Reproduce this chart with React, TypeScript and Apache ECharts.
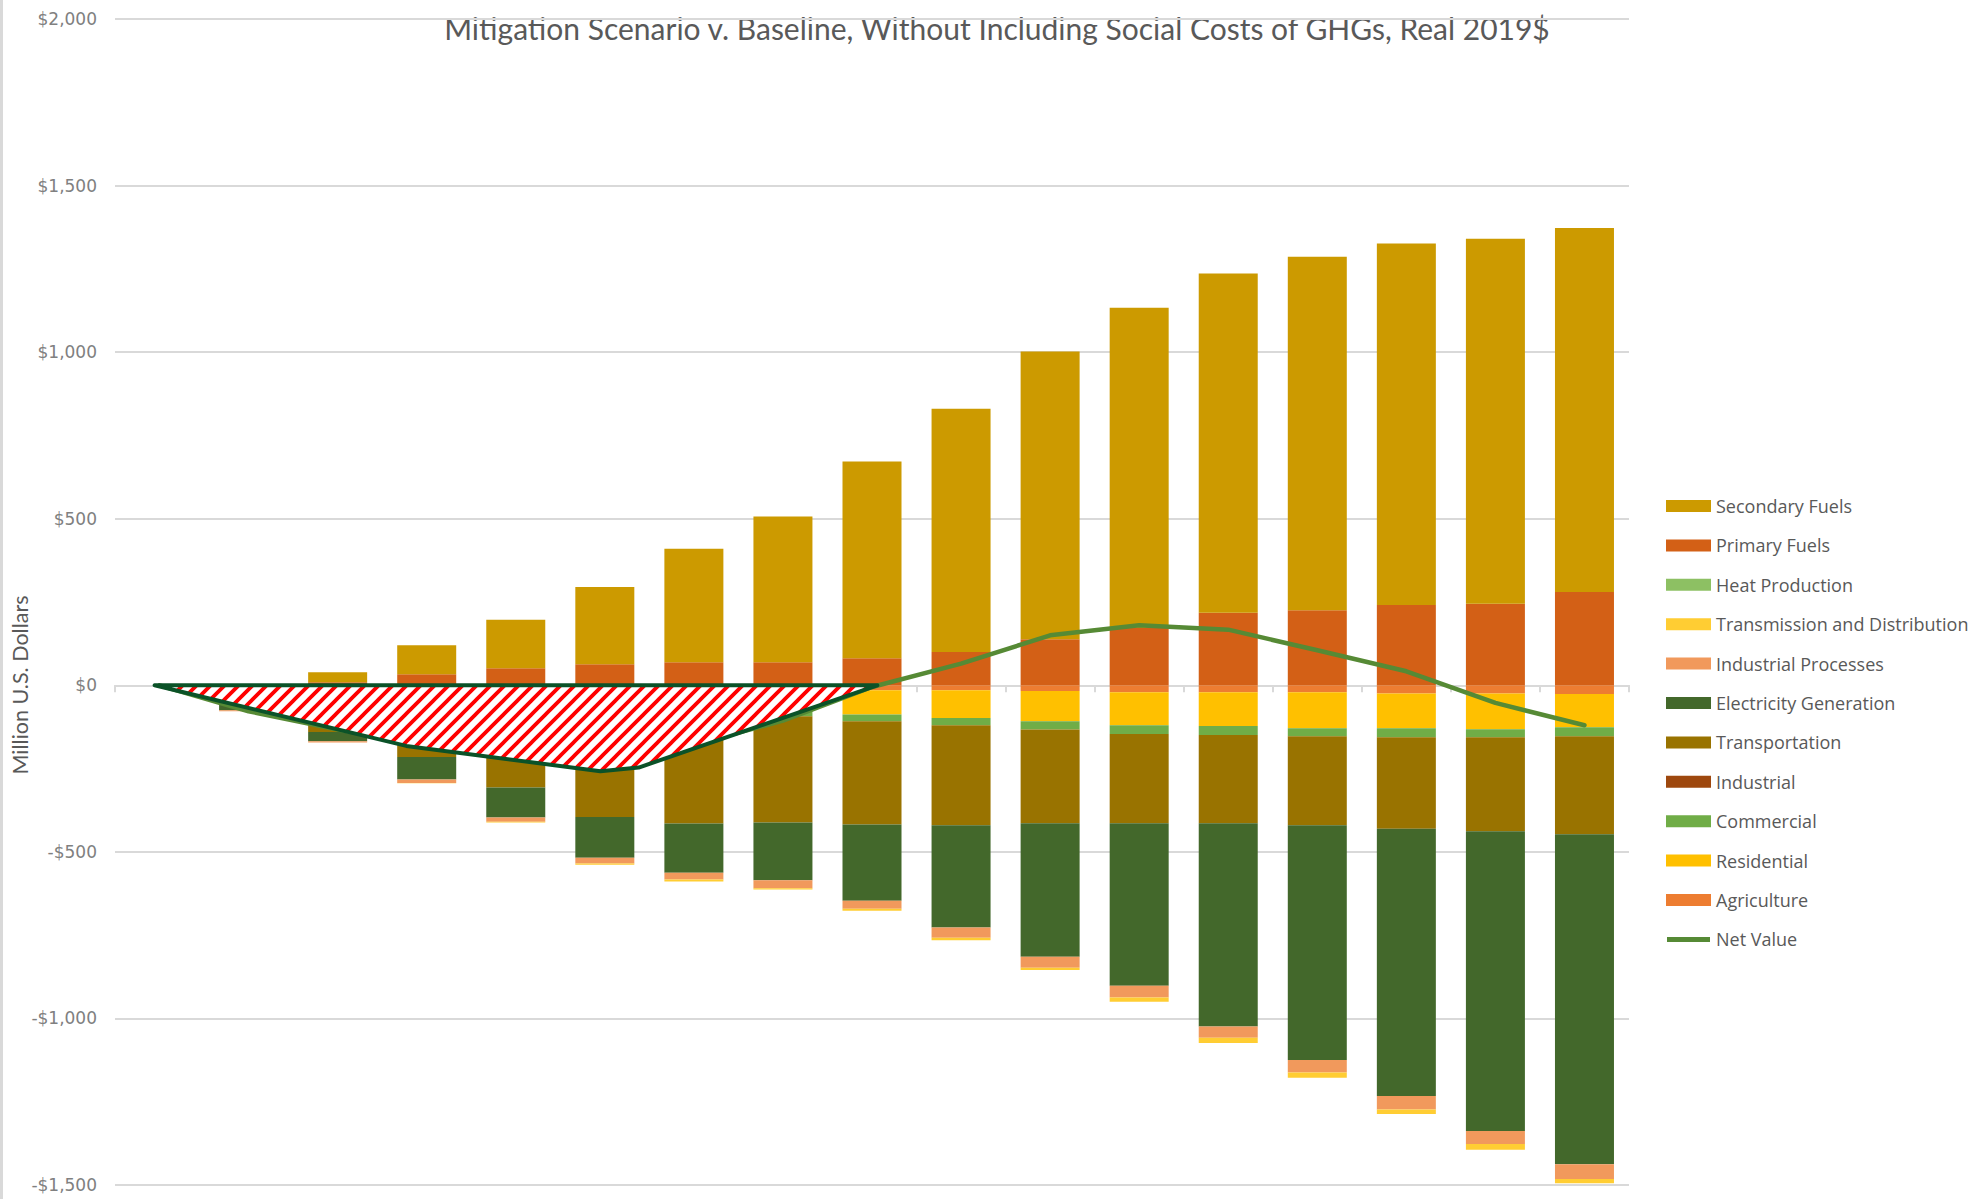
import React, { useEffect, useRef } from 'react';
import * as echarts from 'echarts';

const categories = ['2020', '2021', '2022', '2023', '2024', '2025', '2026', '2027', '2028', '2029', '2030', '2031', '2032', '2033', '2034', '2035', '2036'];

const secondaryFuels = [0, 0, 30, 87, 146, 232, 341, 438, 591, 730, 864, 961, 1018, 1061, 1085, 1095, 1093];
const primaryFuels = [0, 0, 9, 33, 51, 63, 69, 69, 81, 100, 138, 172, 218, 225, 241, 245, 280];
const heatProduction = [0, 0, 0, 0, 0, 0, 0, 0, 0, 0, 0, 0, 0, 0, 0, 0, 0];
const transmissionDistribution = [0, 0, 0, -1, -2, -4, -6, -4, -6, -7, -7, -13, -16, -16, -14, -17, -13];
const industrialProcesses = [0, -3, -4, -10, -13, -17, -20, -24, -24, -31, -33, -35, -34, -37, -40, -39, -44];
const electricityGeneration = [0, -35, -28, -68, -90, -123, -148, -173, -229, -307, -401, -488, -610, -705, -802, -900, -991];
const transportation = [0, -35, -124, -186, -263, -335, -338, -319, -310, -300, -281, -268, -265, -267, -275, -282, -294];
const industrial = [0, 0, 0, 0, 0, 0, 0, 0, 0, 0, 0, 0, 0, 0, 0, 0, 0];
const commercial = [0, -1, -4, -7, -10, -13, -16, -18, -20, -22, -25, -26, -27, -24, -27, -24, -27];
const residential = [0, -3, -9, -17, -27, -38, -50, -62, -73, -83, -91, -99, -101, -108, -104, -107, -100];
const agriculture = [0, -1, -3, -5, -7, -9, -11, -13, -15, -15, -17, -21, -21, -21, -25, -25, -26];
const netValue = [0, -78, -133, -174, -215, -244, -179, -106, -5, 65, 150, 180, 167, 105, 42, -53, -120];

// Hatched "net cost" annotation, in data space (category index, million $)
const hatchX = [-0.055, 2.77, 4.95, 5.38, 8.06, -0.055];
const hatchY = [0, -182, -258, -247, 0, 0];

const titleText = 'Mitigation Scenario v. Baseline, Without Including Social Costs of GHGs, Real 2019$';
const yAxisTitle = 'Million U.S. Dollars';

// stacking order (first = nearest zero)
const barSeries = [
  { name: 'Agriculture', data: agriculture, color: '#ED7D31' },
  { name: 'Residential', data: residential, color: '#FFC000' },
  { name: 'Commercial', data: commercial, color: '#70AD47' },
  { name: 'Industrial', data: industrial, color: '#9E480E' },
  { name: 'Transportation', data: transportation, color: '#997300' },
  { name: 'Electricity Generation', data: electricityGeneration, color: '#43682B' },
  { name: 'Industrial Processes', data: industrialProcesses, color: '#F1995C' },
  { name: 'Transmission and Distribution', data: transmissionDistribution, color: '#FFCD33' },
  { name: 'Heat Production', data: heatProduction, color: '#8DC063' },
  { name: 'Primary Fuels', data: primaryFuels, color: '#D36016' },
  { name: 'Secondary Fuels', data: secondaryFuels, color: '#CC9A00' },
];

const legendOrder = [
  'Secondary Fuels', 'Primary Fuels', 'Heat Production', 'Transmission and Distribution',
  'Industrial Processes', 'Electricity Generation', 'Transportation', 'Industrial',
  'Commercial', 'Residential', 'Agriculture', 'Net Value',
];

function fmtDollar(v: number): string {
  const abs = Math.abs(v).toLocaleString('en-US');
  return (v < 0 ? '-$' : '$') + abs;
}

function makeHatch(): HTMLCanvasElement {
  const P = 14;
  const c = document.createElement('canvas');
  c.width = P;
  c.height = P;
  const ctx = c.getContext('2d')!;
  ctx.fillStyle = '#ffffff';
  ctx.fillRect(0, 0, P, P);
  ctx.strokeStyle = '#ff0000';
  ctx.lineWidth = 3.8;
  ctx.beginPath();
  for (const k of [0, P, 2 * P]) {
    ctx.moveTo(k + 3, -3);
    ctx.lineTo(k - P - 3, P + 3);
  }
  ctx.stroke();
  return c;
}

export default function App() {
  const ref = useRef<HTMLDivElement>(null);
  useEffect(() => {
    const chart = echarts.init(ref.current!, null, { renderer: 'svg' });
    const hatch = makeHatch();
    const option: any = {
      animation: false,
      backgroundColor: '#ffffff',
      grid: { left: 115, right: 346, top: 19, bottom: 14, containLabel: false },
      legend: {
        orient: 'vertical',
        left: 1661,
        top: 491,
        itemWidth: 45,
        itemHeight: 12,
        itemGap: 19.4,
        icon: 'rect',
        textStyle: { fontFamily: 'Open Sans', fontSize: 18, color: '#595959', lineHeight: 20 },
        data: legendOrder.map((n) =>
          n === 'Net Value'
            ? { name: n, icon: 'path://M0,0L0,0M1,3.5L44,3.5L44,8.5L1,8.5ZM45,12L45,12', itemStyle: { color: '#568A35', borderWidth: 0 } }
            : { name: n }
        ),
      },
      xAxis: [
        {
          type: 'category',
          data: categories,
          boundaryGap: true,
          axisLine: { onZero: true, lineStyle: { color: '#d9d9d9', width: 2 } },
          axisTick: { show: true, length: 7, lineStyle: { color: '#d9d9d9', width: 2 } },
          axisLabel: { show: false },
          splitLine: { show: false },
        },
        { type: 'value', min: -0.5, max: 16.5, show: false },
      ],
      yAxis: {
        type: 'value',
        min: -1500,
        max: 2000,
        interval: 500,
        axisLine: { show: false },
        axisTick: { show: false },
        axisLabel: {
          margin: 18,
          fontFamily: 'DejaVu Sans',
          fontSize: 17,
          color: '#808080',
          formatter: (v: number) => fmtDollar(v),
        },
        splitLine: { lineStyle: { color: '#d9d9d9', width: 2 } },
      },
      graphic: [
        { type: 'rect', left: 0, top: 0, shape: { width: 3, height: 1199 }, style: { fill: '#d9d9d9' }, silent: true },
        {
          type: 'text', x: 997, y: 28,
          style: { text: titleText, textAlign: 'center', textVerticalAlign: 'middle', fontFamily: 'Lato', fontSize: 30, fill: '#595959' },
        },
        {
          type: 'text', x: 20, y: 685, rotation: Math.PI / 2,
          style: { text: yAxisTitle, textAlign: 'center', textVerticalAlign: 'middle', fontFamily: 'Lato', fontSize: 21.5, fill: '#595959' },
        },
      ],
      series: [
        ...barSeries.map((s) => ({
          name: s.name,
          type: 'bar',
          stack: 'total',
          barWidth: 59,
          data: s.data,
          itemStyle: { color: s.color },
          z: 2,
        })),
        {
          name: 'Net Value',
          type: 'line',
          data: netValue,
          symbol: 'none',
          lineStyle: { color: '#568A35', width: 4.5, cap: 'round', join: 'round' },
          itemStyle: { color: '#568A35' },
          z: 4,
        },
        {
          name: 'hatch',
          type: 'line',
          xAxisIndex: 1,
          yAxisIndex: 0,
          data: hatchX.map((x, i) => [x, hatchY[i]]),
          symbol: 'none',
          lineStyle: { color: '#0B5228', width: 4, join: 'round', cap: 'round' },
          areaStyle: { color: { image: hatch, repeat: 'repeat', imageWidth: 14, imageHeight: 14 }, opacity: 1 },
          z: 6,
          silent: true,
        },
      ],
    };
    chart.setOption(option);
    return () => chart.dispose();
  }, []);
  return <div ref={ref} style={{ position: 'fixed', left: 0, top: 0, width: 1975, height: 1199, background: '#fff' }} />;
}
